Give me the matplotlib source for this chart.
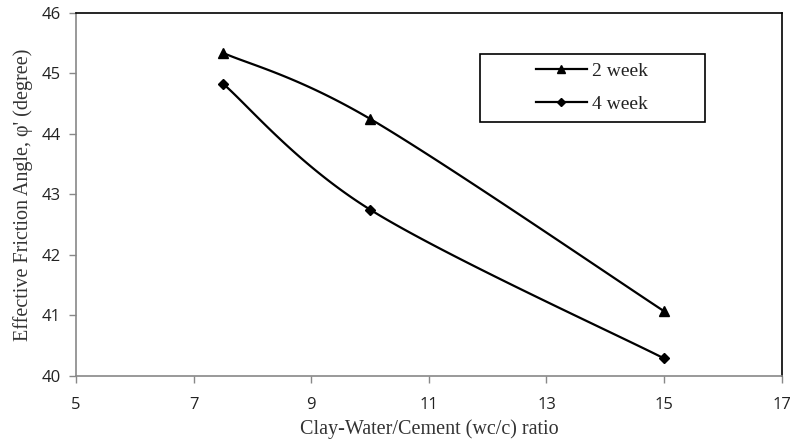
import numpy as np
import matplotlib.pyplot as plt
from matplotlib.lines import Line2D
from matplotlib.patches import Rectangle

ratio = [7.5, 10, 15]
phi_2week = [45.34, 44.25, 41.07]
phi_4week = [44.83, 42.75, 40.29]
series_labels = ["2 week", "4 week"]

x_ticks = [5, 7, 9, 11, 13, 15, 17]
y_ticks = [40, 41, 42, 43, 44, 45, 46]


def smooth_curve(xs, ys, n=60):
    """Excel-style smoothed line (Catmull-Rom through the points)."""
    pts = np.column_stack([xs, ys]).astype(float)
    ext = np.vstack([pts[0], pts, pts[-1]])
    out = []
    t = np.linspace(0, 1, n)[:, None]
    for i in range(1, len(ext) - 2):
        p0, p1, p2, p3 = ext[i - 1], ext[i], ext[i + 1], ext[i + 2]
        c1 = p1 + (p2 - p0) / 6
        c2 = p2 - (p3 - p1) / 6
        seg = ((1 - t) ** 3) * p1 + 3 * ((1 - t) ** 2) * t * c1 \
            + 3 * (1 - t) * t ** 2 * c2 + t ** 3 * p2
        out.append(seg)
    curve = np.vstack(out)
    return curve[:, 0], curve[:, 1]


fig = plt.figure(figsize=(7.92, 4.46), dpi=100)
ax = fig.add_axes([0.096, 0.157, 0.891, 0.814])

for ys, mk, ms in [(phi_2week, "^", 7), (phi_4week, "D", 5)]:
    cx, cy = smooth_curve(ratio, ys)
    ax.plot(cx, cy, color="black", lw=1.6)
    ax.plot(ratio, ys, ls="none", marker=mk, ms=ms, color="black")

ax.set_xlim(5, 17)
ax.set_ylim(40, 46)
ax.set_xticks(x_ticks)
ax.set_yticks(y_ticks)

tick_font = {"family": "Open Sans", "size": 12}
ax.set_xticklabels([str(v) for v in x_ticks], fontdict=tick_font, color="#222222")
ax.set_yticklabels([str(v) for v in y_ticks], fontdict=tick_font, color="#222222")
ax.tick_params(axis="both", direction="out", length=5, width=1, color="#888888")
ax.tick_params(axis="x", pad=10)
ax.tick_params(axis="y", pad=6)

for side in ["left", "bottom"]:
    ax.spines[side].set_color("#888888")
    ax.spines[side].set_linewidth(1.2)
for side in ["top", "right"]:
    ax.spines[side].set_color("black")
    ax.spines[side].set_linewidth(1.2)

ax.set_xlabel("Clay-Water/Cement (wc/c) ratio", family="Liberation Serif",
              size=14.5, color="#333333", labelpad=5)
ax.set_ylabel("Effective Friction Angle, φ' (degree)", family="Liberation Serif",
              size=14.5, color="#333333", labelpad=6)

# legend frame drawn separately so it can be wider than its content
box_x0, box_y0, box_w, box_h = 0.572, 0.700, 0.319, 0.187
ax.add_patch(Rectangle((box_x0, box_y0), box_w, box_h, transform=ax.transAxes,
                       fill=True, facecolor="white", edgecolor="black",
                       lw=1.2, zorder=4))

handles = [
    Line2D([], [], color="black", lw=1.6, marker="^", ms=6),
    Line2D([], [], color="black", lw=1.6, marker="D", ms=4),
]
leg = ax.legend(handles, series_labels, loc="center",
                bbox_to_anchor=(box_x0 + box_w / 2, box_y0 + box_h / 2),
                frameon=False, handlelength=2.6, handletextpad=0.3,
                labelspacing=0.8, borderpad=0, borderaxespad=0,
                prop={"family": "Liberation Serif", "size": 14})
leg.set_zorder(5)
for t in leg.get_texts():
    t.set_color("#222222")

fig.savefig("out.png", dpi=100)
